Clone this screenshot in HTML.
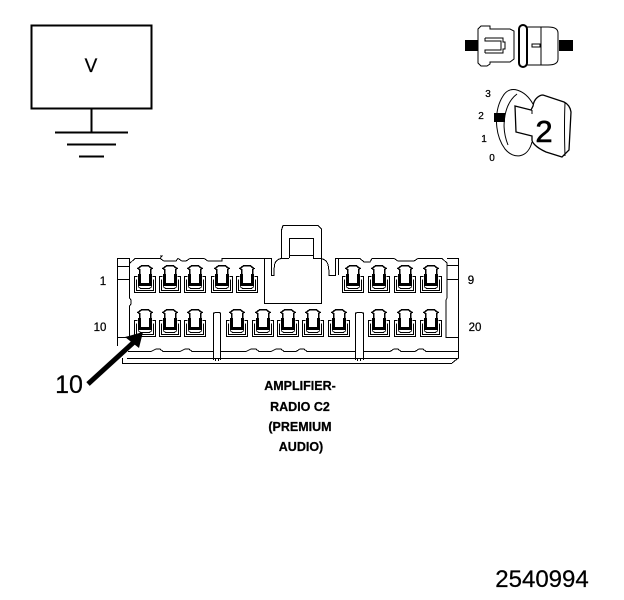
<!DOCTYPE html>
<html><head><meta charset="utf-8"><style>
html,body{margin:0;padding:0;background:#fff}
svg{display:block}
text{font-family:"Liberation Sans",sans-serif;fill:#000;stroke:#000;stroke-width:.25}
.s{fill:none;stroke:#000;stroke-width:1}
.b{fill:none;stroke:#000;stroke-width:2}
</style></head><body>
<svg width="624" height="600" viewBox="0 0 624 600" xmlns="http://www.w3.org/2000/svg" shape-rendering="crispEdges">
<defs>
<g id="t">
<path d="M-6.500 -3.500H-5.500V-8.500L-7 -9.500L-3 -12.500H3L7 -9.500L5.500 -8.500V-3.500H6.500" fill="#fff" stroke="#000" stroke-width="1.500"/>
<path d="M-5.500 -4V6.500H5.500V-4" fill="none" stroke="#000" stroke-width="3"/>
<path d="M-7.500 -1.500H-10.500V14.500H10.500V-1.500H7.500M-8.500 1.500V12.500H8.500V1.500" fill="none" stroke="#000" stroke-width="1"/>
<path d="M-7 8.500L-4.500 10.500H4.500L7 8.500" fill="none" stroke="#000" stroke-width="1"/>
</g>
</defs>

<!-- V box and ground -->
<rect x="31.500" y="25.500" width="120" height="83" class="b"/>
<text x="91" y="72" font-size="19" text-anchor="middle">V</text>
<path d="M91.500 108V132M55 132.500H128M67 144.500H116M79 156.500H104" class="b"/>

<!-- top right icon -->
<g shape-rendering="auto">
<rect x="465" y="40" width="13" height="11" fill="#000"/>
<rect x="559" y="40" width="14" height="11" fill="#000"/>
<path d="M478 29L481 26H490V29H510L514 31V59L510 62H490V64L487 66H481L478 63Z" class="s"/>
<path d="M485 38H503V42H505V49H503V53H485M485 38V41H501V50H485V53" class="s"/>
<rect x="519" y="25" width="8" height="42" rx="4" fill="#fff" stroke="#000" stroke-width="2"/>
<path d="M527 27H548Q558 27 558 33V59Q558 65 548 65H527M541 27V65" class="s"/>
<rect x="532" y="44" width="8" height="3" class="s"/>

<!-- key icon -->
<path d="M533 104C525 90 510 84 503 96C494 110 494 134 505 149C514 160 528 158 532 142" class="s" stroke-width="1.300"/>
<path d="M517 94C505 103 500 125 508 145" class="s"/>
<path d="M515 106L531 110L533 106C534 98 540 95 543 95L564 102Q570 105 571 112L569 150L562 157L546 152C535 147 532 142 532 140L532 136L516 132Z" fill="#fff" stroke="#000" stroke-width="1.300"/>
<path d="M532 110V114M565 103Q564 125 565 156" class="s"/>
<rect x="494" y="113" width="11" height="9" fill="#000"/>
</g>
<text x="544" y="142" font-size="31" text-anchor="middle" style="stroke-width:.6">2</text>
<g font-size="10" text-anchor="middle">
<text x="488" y="97">3</text>
<text x="481" y="119">2</text>
<text x="484" y="142">1</text>
<text x="492" y="161">0</text>
</g>

<!-- connector outline -->
<path d="M117 258.500H129M117 266.500H129M117 279.500H129M117.500 258V346M117 337.500H129M129.500 258V298L131 300V304L129.500 306V338" class="s"/>
<path d="M129 264L135 258.500H160L162 256H160M160 258.500L164 261H176L178 258.500H178L182 261H186L190 258.500H204L208 261H222V258.500H264" class="s"/>
<path d="M338 258.500H360L364 262H370L372 258.500H394L398 261H414L418 258.500H442L447 263V298L446 300V338M447 258.500H458M447 265.500H458M447 279.500H458M458.500 258V358L452 363" class="s"/>
<path d="M446 337.500H458" class="s"/>
<path d="M128 351.500H151L156 349H160L163 351.500H180L185 349H189L192 351.500H213M220 351.500H246L251 349H256L259 351.500H271L276 349H281L284 351.500H296L300 349H304L307 351.500H355M363 351.500H390L394 349H398L401 351.500H415L419 349H423L426 351.500H458" class="s"/>
<path d="M127 358.500H458M122 363.500H452M122.500 358V364" class="s"/>

<!-- latch -->
<path d="M281.500 258V230L283 225.500H318L321.500 229V303.500H264.500V258.500" class="s"/>
<path d="M289.500 238.500H313.500V258M289.500 238V258M289 255.500H313M281 258.500H289M313 258.500H321" class="s"/>
<path d="M264 258.500H271.500V275M271 275.500H274C274 265 274 260 281 258.500M321 258.500C328 260 329 265 329 275.500H335.500V258.500H338M338.500 258V275" class="s"/>

<!-- posts -->
<path d="M213.500 360V313L216 312.500H219L220.500 313V360M215.500 358V361M218.500 358V361" class="s"/>
<path d="M355.500 360V313L358 312.500H361L363.500 313V360M357.500 358V361M360.500 358V361" class="s"/>

<!-- terminals -->
<g>
<use href="#t" x="145" y="278"/><use href="#t" x="170" y="278"/><use href="#t" x="195" y="278"/><use href="#t" x="222" y="278"/><use href="#t" x="247" y="278"/>
<use href="#t" x="353" y="278"/><use href="#t" x="379" y="278"/><use href="#t" x="405" y="278"/><use href="#t" x="431" y="278"/>
<use href="#t" x="145" y="322"/><use href="#t" x="170" y="322"/><use href="#t" x="195" y="322"/>
<use href="#t" x="237" y="322"/><use href="#t" x="263" y="322"/><use href="#t" x="288" y="322"/><use href="#t" x="313" y="322"/><use href="#t" x="339" y="322"/>
<use href="#t" x="379" y="322"/><use href="#t" x="405" y="322"/><use href="#t" x="431" y="322"/>
</g>

<!-- pin labels -->
<g font-size="11.500">
<text x="103" y="285" text-anchor="middle">1</text>
<text x="100" y="331" text-anchor="middle">10</text>
<text x="471" y="284" text-anchor="middle">9</text>
<text x="475" y="331" text-anchor="middle">20</text>
</g>

<!-- arrow -->
<g shape-rendering="auto">
<path d="M88 384L134 342" stroke="#000" stroke-width="5" fill="none"/>
<path d="M143 332L139 348L125 337Z" fill="#000"/>
</g>
<text x="69" y="393" font-size="25" text-anchor="middle">10</text>

<!-- caption -->
<g font-size="12.500" font-weight="bold" text-anchor="middle">
<text x="300" y="390">AMPLIFIER-</text>
<text x="300" y="411">RADIO C2</text>
<text x="300" y="431">(PREMIUM</text>
<text x="301" y="451">AUDIO)</text>
</g>

<text x="542" y="587" font-size="24" text-anchor="middle">2540994</text>
</svg>
</body></html>
